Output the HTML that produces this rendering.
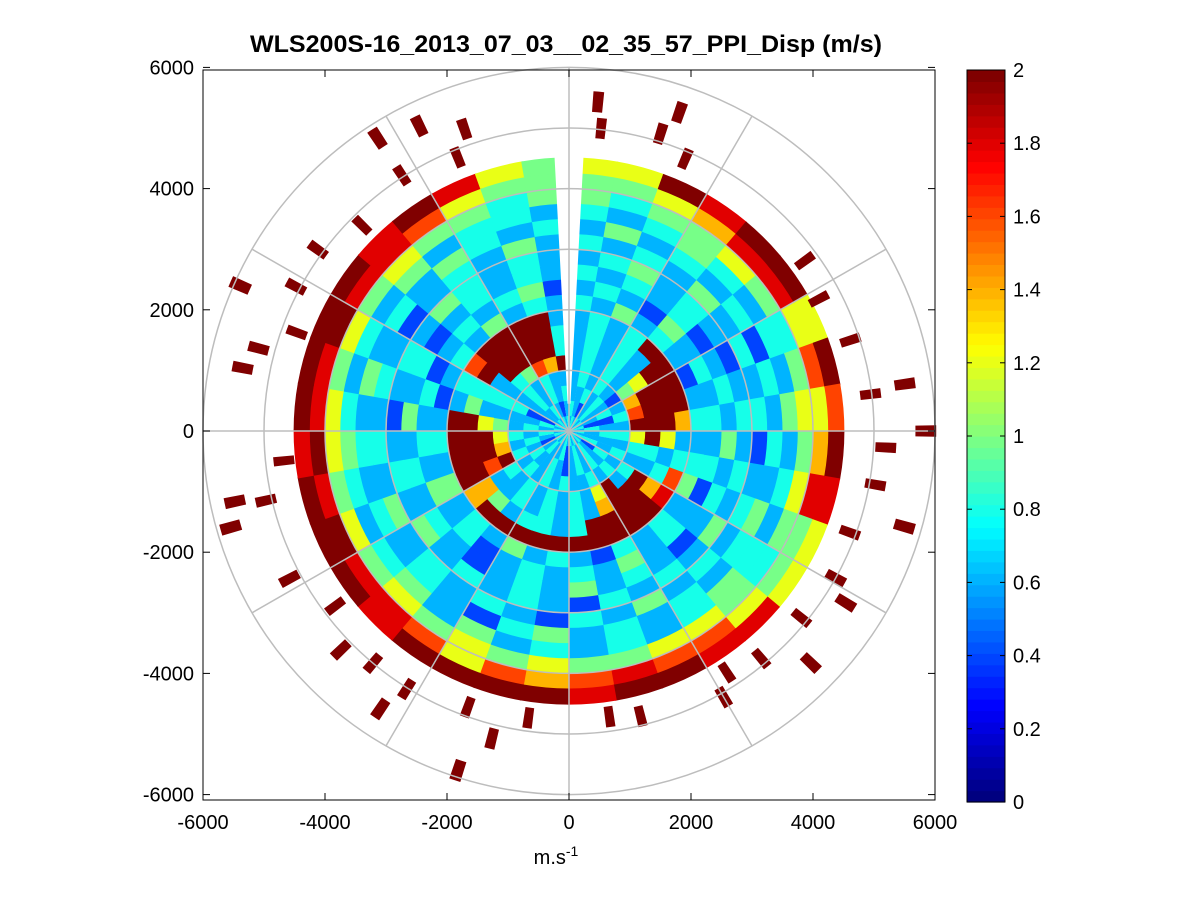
<!DOCTYPE html>
<html><head><meta charset="utf-8"><style>
html,body{margin:0;padding:0;background:#fff;}
svg{display:block;font-family:"Liberation Sans",Arial,sans-serif;}
</style></head><body>
<svg id="chart" width="1201" height="901" viewBox="0 0 1201 901">
<rect x="0" y="0" width="1201" height="901" fill="#fff"/>
<text x="566" y="52" text-anchor="middle" font-size="24" font-weight="bold" textLength="632" lengthAdjust="spacingAndGlyphs">WLS200S-16_2013_07_03__02_35_57_PPI_Disp (m/s)</text>
<g id="plot"></g>
<rect x="203" y="70" width="732" height="730" fill="none" stroke="#000" stroke-width="1"/>
<g id="axes"></g>
<g id="cbar"></g>
<text x="556" y="864" text-anchor="middle" font-size="20">m.s<tspan dy="-8" font-size="14">-1</tspan></text>
</svg>
<script>
// range gates (m) and 10-degree azimuth sectors (clockwise from north)
const gateEdges = [0,250,500,750,1000,1250,1500,1750,2000,2250,2500,2750,3000,3250,3500,3750,4000,4250,4500];
// value codes per gate: digit d -> d*0.2 m/s, X -> 2 m/s
const ringCodes = [
"343434343434343434343434343434343434",
"432343324334234343243343234342334323",
"334343423433434343234334343432343434",
"343432343434343433434343434334343433",
"34343578X64343X634343434X7653434587X",
"343436XXXX43XXX7343434338XX6343XXXX4",
"34343XXXX6347XXXX4344357XXXX54XXXXX4",
"3434XXXX73489XXXXXXXXXX7XXXX348XXXX3",
"435343234345343423435343534323435343",
"343253434342343534343243534342343452",
"434342343534323435343234343534234343",
"345343234343534342343435343234354343",
"434353434234343534234343534343234353",
"353434243435434343542343434353435434",
"434543435343454343435354345434353443",
"545565456565456655656565656656565545",
"556799686795568898786899X9X99X998655",
"66X9XX6X8X96699XX9XXXX9XXX9XXXX9X965"
];
// isolated far returns: azimuth (deg), range (m)
const dashAz = [5,19,6,17,23,327,334,341,338,327,306,298,294,285,281,258,254,257,242,226,214,212,200,198,194,188,166,172,150,140,134,129,122,119,106,93,90,83,82,72,62,54,264,233,220,147,110,100,290,315];
const dashR  = [5450,5560,5020,5130,4880,5760,5600,5270,4870,5030,5090,5070,5900,5270,5450,5600,5770,5100,5190,5200,5530,5020,4850,5890,5230,4780,4850,4760,5070,4900,5510,4900,5350,5000,5720,5200,5850,4980,5560,4850,4640,4780,4700,4800,5000,4750,4900,5100,4750,4800];
const cbTicks = [0,0.2,0.4,0.6,0.8,1,1.2,1.4,1.6,1.8,2];
const xTicks = [-6000,-4000,-2000,0,2000,4000,6000];
const yTicks = [6000,4000,2000,0,-2000,-4000,-6000];

const NS="http://www.w3.org/2000/svg";
const cx=569, cy=431, sx=0.0610, sy=0.0606;
const X=v=>cx+v*sx, Y=v=>cy-v*sy;
function jet(t){t=Math.max(0,Math.min(1,t));
 const lv=Math.floor(t*63.999)/63;t=lv;
 const f=x=>Math.max(0,Math.min(1,x));
 const r=f(Math.min(4*t-1.5,-4*t+4.5)),g=f(Math.min(4*t-0.5,-4*t+3.5)),b=f(Math.min(4*t+0.5,-4*t+2.5));
 return `rgb(${Math.round(r*255)},${Math.round(g*255)},${Math.round(b*255)})`;}
function pt(az,r){const a=az*Math.PI/180;return [X(r*Math.sin(a)),Y(r*Math.cos(a))];}
function sector(a0,a1,r0,r1){
 const p1=pt(a0,r0),p2=pt(a0,r1),p3=pt(a1,r1),p4=pt(a1,r0);
 return `M${p1[0].toFixed(1)},${p1[1].toFixed(1)}L${p2[0].toFixed(1)},${p2[1].toFixed(1)}A${(r1*sx).toFixed(1)},${(r1*sy).toFixed(1)} 0 0 1 ${p3[0].toFixed(1)},${p3[1].toFixed(1)}L${p4[0].toFixed(1)},${p4[1].toFixed(1)}A${(r0*sx).toFixed(1)},${(r0*sy).toFixed(1)} 0 0 0 ${p1[0].toFixed(1)},${p1[1].toFixed(1)}Z`;}
function mk(tag,attrs,parent){const e=document.createElementNS(NS,tag);for(const k in attrs)e.setAttribute(k,attrs[k]);parent.appendChild(e);return e;}
function codeVal(c){return c==='X'?2:parseInt(c)*0.2;}
const plot=document.getElementById('plot');
ringCodes.forEach((row,gi)=>{
 for(let s=0;s<row.length;s++){
  const v=codeVal(row[s]);
  const el=mk('path',{d:sector(s*10,s*10+10.3,gateEdges[gi],gateEdges[gi+1]+15),fill:jet(v/2)},plot);
  
  
 }
});
// no-data wedge at north
const gap=mk('path',{d:sector(-3,3,450,4600),fill:'#fff'},plot);


dashAz.forEach((az,i)=>{
 const el=mk('path',{d:sector(az-0.9,az+0.9,dashR[i]-170,dashR[i]+170),fill:'#800000'},plot);
 
 
});
// polar grid
const grid=mk('g',{stroke:'#bdbdbd','stroke-width':1.5,fill:'none'},plot);


for(let r=1000;r<=6000;r+=1000){const c=mk('ellipse',{cx:cx,cy:cy,rx:r*sx,ry:r*sy},grid);
 
 }
for(let a=0;a<360;a+=30){const p=pt(a,6000);const l=mk('line',{x1:cx,y1:cy,x2:p[0],y2:p[1]},grid);
 
 }
// axes ticks
const axes=document.getElementById('axes');
xTicks.forEach(v=>{
 mk('line',{x1:X(v),y1:800,x2:X(v),y2:793,stroke:'#000'},axes);
 mk('line',{x1:X(v),y1:70,x2:X(v),y2:77,stroke:'#000'},axes);
 const t=mk('text',{x:X(v),y:829,'text-anchor':'middle','font-size':20},axes);t.textContent=v;
 
 
});
yTicks.forEach(v=>{
 mk('line',{x1:203,y1:Y(v),x2:210,y2:Y(v),stroke:'#000'},axes);
 mk('line',{x1:935,y1:Y(v),x2:928,y2:Y(v),stroke:'#000'},axes);
 const t=mk('text',{x:194,y:Y(v)+7,'text-anchor':'end','font-size':20},axes);t.textContent=v;
 
 
});
// colorbar
const cb=document.getElementById('cbar');
const cbTop=70,cbBot=802,cbX=967,cbW=38;
for(let i=0;i<64;i++){const h=(cbBot-cbTop)/64;
 const r=mk('rect',{x:cbX,y:cbBot-(i+1)*h,width:cbW,height:h+0.6,fill:jet((i+0.5)/64)},cb);
 
 }
mk('rect',{x:cbX,y:cbTop,width:cbW,height:cbBot-cbTop,fill:'none',stroke:'#000'},cb);
cbTicks.forEach(v=>{const y=cbBot-v/2*(cbBot-cbTop);
 mk('line',{x1:cbX,y1:y,x2:cbX+5,y2:y,stroke:'#000'},cb);
 mk('line',{x1:cbX+cbW,y1:y,x2:cbX+cbW-5,y2:y,stroke:'#000'},cb);
 const t=mk('text',{x:1013,y:y+7,'font-size':20},cb);t.textContent=String(v);
 
 });
</script>
</body></html>
